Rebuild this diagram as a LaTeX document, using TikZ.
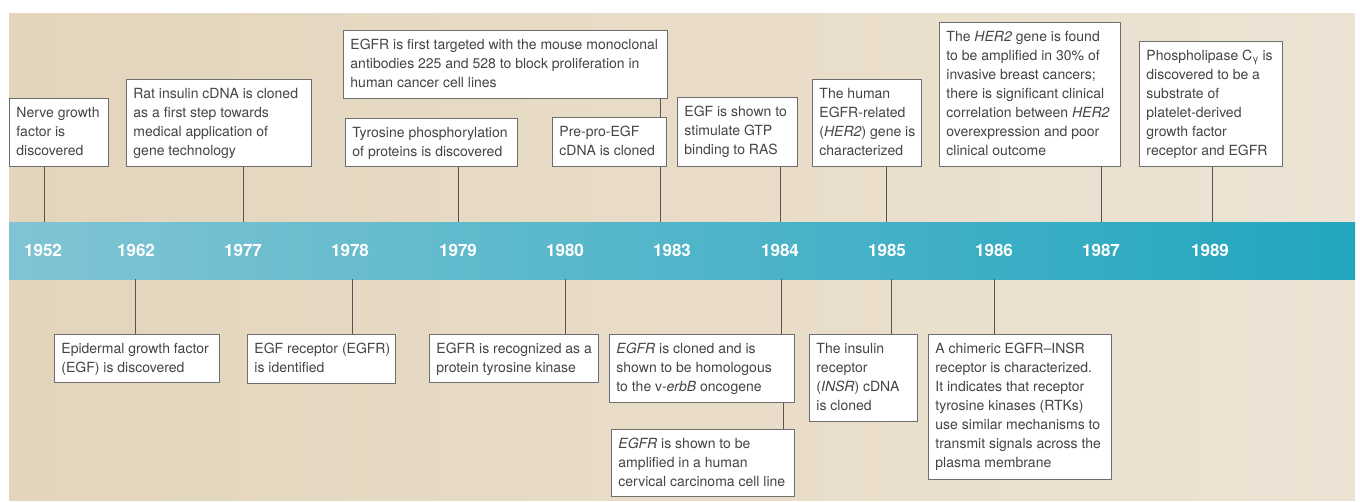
\documentclass[tikz,border=0pt]{standalone}
\usepackage{fontspec}
\setmainfont{TeX Gyre Heros}
\definecolor{bgL}{RGB}{227,213,188}
\definecolor{bgR}{RGB}{237,227,212}
\definecolor{bandL}{RGB}{128,196,212}
\definecolor{bandR}{RGB}{34,166,190}
\definecolor{boxline}{RGB}{110,110,110}
\definecolor{connline}{RGB}{85,85,85}
\definecolor{txt}{RGB}{68,68,68}
\newcommand\bt[2]{\makebox[\dimexpr#1pt-14pt\relax][l]{\begin{tabular}[t]{@{}l@{}}#2\end{tabular}}}
\tikzset{
  box/.style={draw=boxline, line width=0.9pt, fill=white, inner xsep=7pt, inner ysep=0pt,
    anchor=north west, text height=19pt, font=\fontsize{14}{19}\selectfont, text=txt},
  conn/.style={draw=connline, line width=1pt},
  year/.style={text=white, font=\bfseries\fontsize{17}{17}\selectfont, inner sep=0pt},
}
\begin{document}
\begin{tikzpicture}[x=1pt,y=-1pt]
\useasboundingbox (0,0) rectangle (1360,501);
\foreach \i in {0,...,59}{
  \pgfmathtruncatemacro\pct{100-\i*100/59}
  \pgfmathsetmacro\xa{9+\i*22.4333}
  \pgfmathsetmacro\xb{min(1355,9+(\i+1)*22.4333+0.6)}
  \fill[bgL!\pct!bgR] (\xa,13) rectangle (\xb,501);
}
\node[minimum width=1346pt, minimum height=57pt, inner sep=0pt, anchor=north west,
  left color=bandL, right color=bandR, draw=none] (band) at (9,222) {};

% top boxes
\node[box, text depth=49pt] (b1952) at (9,98) {\bt{99}{Nerve growth\\factor is\\discovered}};
\node[box, text depth=68pt] (b1977) at (126,79) {\bt{185}{Rat insulin cDNA is cloned\\as a first step towards\\medical application of\\gene technology}};
\node[box, text depth=49pt] (bTarget) at (343,30) {\bt{324}{EGFR is first targeted with the mouse monoclonal\\antibodies 225 and 528 to block proliferation in\\human cancer cell lines}};
\node[box, text depth=29pt] (b1979) at (345,118) {\bt{172}{Tyrosine phosphorylation\\of proteins is discovered}};
\node[box, text depth=30pt] (b1983) at (552,117) {\bt{114}{Pre-pro-EGF\\cDNA is cloned}};
\node[box, text depth=50pt] (b1984) at (677,97) {\bt{120}{EGF is shown to\\stimulate GTP\\binding to RAS}};
\node[box, text depth=68pt] (b1985) at (812,79) {\bt{109}{The human\\EGFR-related\\(\textit{HER2}) gene is\\characterized}};
\node[box, text depth=125pt] (b1987) at (939,22) {\bt{181}{The \textit{HER2} gene is found\\to be amplified in 30\% of\\invasive breast cancers;\\there is significant clinical\\correlation between \textit{HER2}\\overexpression and poor\\clinical outcome}};
\node[box, text depth=106pt] (b1989) at (1139,41) {\bt{143}{Phospholipase C\raisebox{-2pt}{\fontsize{10}{10}\selectfont γ} is\\discovered to be a\\substrate of\\platelet-derived\\growth factor\\receptor and EGFR}};

% bottom boxes
\node[box, text depth=29pt] (b1962) at (54,334) {\bt{165}{Epidermal growth factor\\(EGF) is discovered}};
\node[box, text depth=30pt] (b1978) at (247,334) {\bt{148}{EGF receptor (EGFR)\\is identified}};
\node[box, text depth=29pt] (b1980) at (429,334) {\bt{169}{EGFR is recognized as a\\protein tyrosine kinase}};
\node[box, text depth=49pt] (b1984a) at (609,334) {\bt{185}{\textit{EGFR} is cloned and is\\shown to be homologous\\to the v-\textit{erbB} oncogene}};
\node[box, text depth=48pt] (b1984b) at (611,429) {\bt{183}{\textit{EGFR} is shown to be\\amplified in a human\\cervical carcinoma cell line}};
\node[box, text depth=68pt] (b1985b) at (809,334) {\bt{108}{The insulin\\receptor\\(\textit{INSR}) cDNA\\is cloned}};
\node[box, text depth=126pt] (b1986) at (928,334) {\bt{183}{A chimeric EGFR--INSR\\receptor is characterized.\\It indicates that receptor\\tyrosine kinases (RTKs)\\use similar mechanisms to\\transmit signals across the\\plasma membrane}};

% connectors
\draw[conn] (b1952.south -| 44,0) -- (band.north -| 44,0);
\draw[conn] (b1977.south -| 243,0) -- (band.north -| 243,0);
\draw[conn] (b1979.south -| 458,0) -- (band.north -| 458,0);
\draw[conn] (bTarget.south -| 660,0) -- (b1983.north -| 660,0);
\draw[conn] (b1983.south -| 660,0) -- (band.north -| 660,0);
\draw[conn] (b1984.south -| 780,0) -- (band.north -| 780,0);
\draw[conn] (b1985.south -| 886,0) -- (band.north -| 886,0);
\draw[conn] (b1987.south -| 1101,0) -- (band.north -| 1101,0);
\draw[conn] (b1989.south -| 1212,0) -- (band.north -| 1212,0);
\draw[conn] (band.south -| 135,0) -- (b1962.north -| 135,0);
\draw[conn] (band.south -| 352,0) -- (b1978.north -| 352,0);
\draw[conn] (band.south -| 565,0) -- (b1980.north -| 565,0);
\draw[conn] (band.south -| 781,0) -- (b1984a.north -| 781,0);
\draw[conn] (b1984a.south -| 783,0) -- (b1984b.north -| 783,0);
\draw[conn] (band.south -| 891,0) -- (b1985b.north -| 891,0);
\draw[conn] (band.south -| 994,0) -- (b1986.north -| 994,0);

% years
\node[year] (y1952) at (43,250) {1952};
\node[year] (y1962) at (136,250) {1962};
\node[year] (y1977) at (243,250) {1977};
\node[year] (y1978) at (350,250) {1978};
\node[year] (y1979) at (458,250) {1979};
\node[year] (y1980) at (565,250) {1980};
\node[year] (y1983) at (672,250) {1983};
\node[year] (y1984) at (780,250) {1984};
\node[year] (y1985) at (887,250) {1985};
\node[year] (y1986) at (994,250) {1986};
\node[year] (y1987) at (1101,250) {1987};
\node[year] (y1989) at (1210,250) {1989};
\end{tikzpicture}
\end{document}
